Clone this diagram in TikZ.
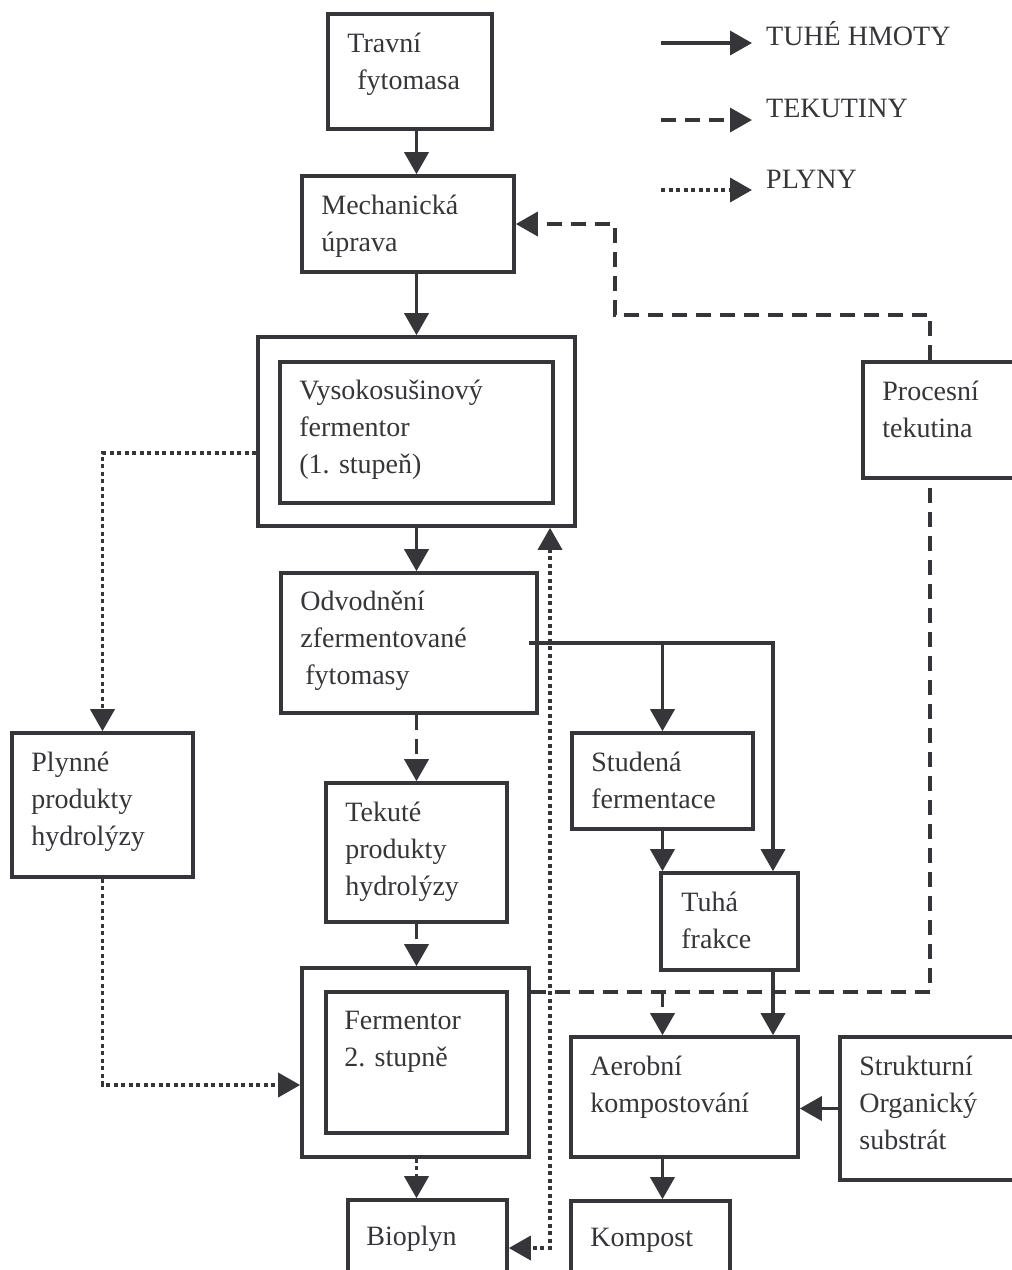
\documentclass[tikz,border=0pt]{standalone}
\usepackage{fontspec}
\setmainfont{Liberation Serif}
\usetikzlibrary{arrows.meta,positioning}
\definecolor{ink}{HTML}{36363A}

\begin{document}
\begin{tikzpicture}[x=1pt, y=-1pt, >={Triangle[length=22pt, width=24pt]},
	box/.style 2 args={draw=ink, line width=3.6pt, minimum width=#1pt, minimum height=#2pt, inner sep=0pt},
	txt/.style={anchor=north west, align=left, inner sep=0pt, text=ink, font=\fontsize{28}{37}\selectfont, execute at begin node=\strut},
	tuhe/.style={draw=ink, line width=3.6pt, ->},
	tekut/.style={tuhe, dash pattern=on 15pt off 9pt},
	plyny/.style={tuhe, dash pattern=on 4pt off 3.5pt}]
	\clip (0,0) rectangle (1012,1270);
	% boxes
	\node[box={164}{115}] (trav) at (410,71.5) {};
	\node[box={212}{96}] (mech) at (408,224) {};
	\node[box={317}{189}] (vys) at (416.5,431.5) {};
	\node[box={273}{141}] (vysin) at (416.5,432.5) {};
	\node[box={256}{140}] (odv) at (409,643) {};
	\node[box={181}{144}] (plyn) at (102.5,805) {};
	\node[box={181}{139}] (tek) at (416.5,852.5) {};
	\node[box={181}{96}] (stud) at (662.5,781) {};
	\node[box={137}{97}] (tuha) at (729.5,921.5) {};
	\node[box={227}{189}] (ferm) at (415.5,1062.5) {};
	\node[box={181}{141}] (fermin) at (416.5,1062.5) {};
	\node[box={159}{100}] (bio) at (427.5,1250) {};
	\node[box={177}{116}] (proc) at (951.5,420) {};
	\node[box={227}{120}] (aer) at (684.5,1097) {};
	\node[box={180}{143}] (str) at (930,1108.5) {};
	\node[box={159}{100}] (komp) at (650.5,1251) {};
	% texts
	\node[txt, below right=21pt and 21pt of trav.north west] (travT) {Travní\\\hspace{10pt}fytomasa};
	\node[txt, below right=21pt and 21pt of mech.north west] (mechT) {Mechanická\\úprava};
	\node[txt, below right=20pt and 21pt of vysin.north west] (vysT) {Vysokosušinový\\fermentor\\(1. stupeň)};
	\node[txt, below right=20pt and 21pt of odv.north west] (odvT) {Odvodnění\\zfermentované\\\hspace{5pt}fytomasy};
	\node[txt, below right=21pt and 21pt of plyn.north west] (plynT) {Plynné\\produkty\\hydrolýzy};
	\node[txt, below right=21pt and 21pt of tek.north west] (tekT) {Tekuté\\produkty\\hydrolýzy};
	\node[txt, below right=21pt and 21pt of stud.north west] (studT) {Studená\\fermentace};
	\node[txt, below right=21pt and 22pt of tuha.north west] (tuhaT) {Tuhá\\frakce};
	\node[txt, below right=21pt and 20pt of fermin.north west] (fermT) {Fermentor\\2. stupně};
	\node[txt, below right=21pt and 20pt of bio.north west] (bioT) {Bioplyn};
	\node[txt, below right=21pt and 21pt of proc.north west] (procT) {Procesní\\tekutina};
	\node[txt, below right=21pt and 21pt of aer.north west] (aerT) {Aerobní\\kompostování};
	\node[txt, below right=21pt and 21pt of str.north west] (strT) {Strukturní\\Organický\\substrát};
	\node[txt, below right=21pt and 21pt of komp.north west] (kompT) {Kompost};
	% legend
	\coordinate (l1a) at (661,43); \coordinate (l1b) at (752,43);
	\coordinate (l2a) at (661,120); \coordinate (l2b) at (752,120);
	\coordinate (l3a) at (661,190); \coordinate (l3b) at (752,190);
	\node[txt, anchor=base west] (leg1) at (766,45) {TUHÉ HMOTY};
	\node[txt, anchor=base west] (leg2) at (766,117) {TEKUTINY};
	\node[txt, anchor=base west] (leg3) at (766,188) {PLYNY};
	\draw[tuhe] (l1a) -- (l1b);
	\draw[tekut] (l2a) -- (l2b);
	\draw[plyny] (l3a) -- (l3b);
	% main line
	\draw[tuhe] (trav.south -| vys.north) -- (mech.north -| vys.north);
	\draw[tuhe] (mech.south -| vys.north) -- (vys.north);
	\draw[tuhe] (vys.south) -- (odv.north -| vys.south);
	\draw[tekut] (odv.south -| tek.north) -- (tek.north);
	\draw[tekut] (tek.south) -- (ferm.north -| tek.south);
	\draw[plyny] (ferm.south -| tek.south) -- (bio.north -| tek.south);
	% solids
	\coordinate (split) at (773,643);
	\draw[tuhe] ([xshift=-10pt]odv.east) -| (tuha.north -| split);
	\draw[tuhe] (stud.north |- split) -- (stud.north);
	\draw[tuhe] (stud.south) -- (stud.south |- tuha.north);
	\draw[tuhe] (tuha.south -| split) -- (aer.north -| split);
	\draw[tuhe] (str.west) -- (aer.east |- str.west);
	\draw[tuhe] (aer.south -| stud.south) -- (komp.north -| stud.south);
	% process liquid
	\coordinate (pc) at (930,992);
	\coordinate (ret) at (615,315);
	\draw[tekut, -] (ferm.east |- pc) -- (pc) -- (proc.south -| pc);
	\draw[tekut] (stud.south |- pc) -- (aer.north -| stud.south);
	\draw[tekut] (proc.north -| pc) |- (ret) |- (mech.east);
	% gases
	\coordinate (gasA) at (102,453);
	\coordinate (gasB) at (102,1085);
	\coordinate (gasC) at (550,1248);
	\draw[plyny] (vys.west |- gasA) -| (plyn.north);
	\draw[plyny] (plyn.south) |- (ferm.west |- gasB);
	\draw[plyny, <->] (vys.south -| gasC) -- (gasC) -- (bio.east |- gasC);
\end{tikzpicture}
\end{document}
